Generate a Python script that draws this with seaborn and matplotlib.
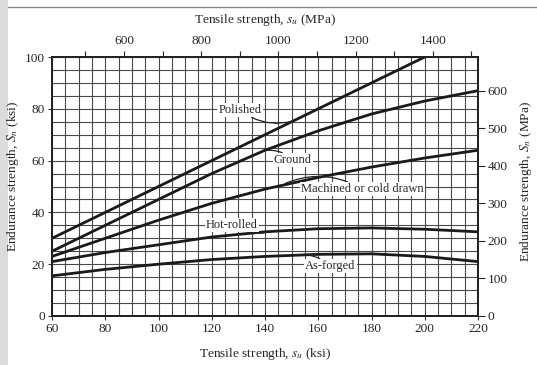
import numpy as np
import pandas as pd
import matplotlib
matplotlib.use("Agg")
import matplotlib.pyplot as plt
import seaborn as sns

# ========== Data (ksi) ==========
su_ksi = [60, 80, 100, 120, 140, 160, 180, 200, 220]
polished = [30, 40, 50, 60, 70, 80, 90, 100, None]
ground = [25, 35, 45, 55, 64, 71.5, 78, 83, 87]
machined = [23, 30, 37, 43.5, 49, 53.5, 57.5, 61, 64]
hot_rolled = [21, 24.5, 27.5, 30.5, 32.5, 33.7, 34, 33.5, 32.5]
as_forged = [15.5, 18, 20, 21.8, 23, 23.8, 24, 23, 21]

finish_names = ["Polished", "Ground", "Machined or cold drawn", "Hot-rolled", "As-forged"]
finish_values = [polished, ground, machined, hot_rolled, as_forged]

# label text position and leader tip (ksi coordinates)
label_xy = [(130.7, 79.5), (150.5, 60.2), (176.5, 49.0), (127.5, 35.1), (164.5, 19.3)]
tip_xy = [(150.6, 75.3), (139.5, 63.8), (147.6, 51.2), (142.7, 32.9), (150.6, 23.4)]

KSI_TO_MPA = 6.895
top_ticks = list(range(500, 1600, 100))
right_ticks = [0, 100, 200, 300, 400, 500, 600]

rows = []
for name, vals in zip(finish_names, finish_values):
    for x, v in zip(su_ksi, vals):
        if v is not None:
            rows.append({"su": x, "se": v, "finish": name})
df = pd.DataFrame(rows)

# ========== Style ==========
sns.set_style("white")
plt.rcParams["font.family"] = ["Liberation Serif", "DejaVu Serif"]
plt.rcParams["mathtext.fontset"] = "stix"
FS = 9.6

fig = plt.figure(figsize=(5.37, 3.65), dpi=100)
ax = fig.add_axes([52 / 537, 1 - 316 / 365, (478 - 52) / 537, (316 - 57) / 365])

# scanned-page decorations
fig.patches.append(plt.Rectangle((0, 0), 8 / 537, 1, transform=fig.transFigure,
                                 facecolor="#dcdcdc", edgecolor="none", zorder=-5))
fig.lines.append(plt.Line2D([8 / 537, 1], [1 - 7 / 365, 1 - 7 / 365], transform=fig.transFigure,
                            color="#888888", lw=1.0, zorder=-5))

# grid every 5 ksi
for gx in np.arange(60, 221, 5):
    ax.axvline(gx, color="#4a4a4a", lw=0.8, zorder=1)
for gy in np.arange(0, 101, 5):
    ax.axhline(gy, color="#4a4a4a", lw=0.8, zorder=1)

sns.lineplot(data=df, x="su", y="se", hue="finish", palette=["#1a1a1a"] * 5,
             estimator=None, sort=False, lw=2.0, legend=False, ax=ax, zorder=3)

ax.set_xlim(60, 220)
ax.set_ylim(0, 100)
ax.set_xticks(range(60, 221, 20))
ax.set_yticks(range(0, 101, 20))
ax.tick_params(axis="both", labelsize=FS, length=3, width=0.8, color="#333333", pad=2,
               direction="out", bottom=True, left=True)
ax.set_xlabel(r"Tensile strength, $s_u$ (ksi)", fontsize=FS, labelpad=8)
ax.set_ylabel(r"Endurance strength, $S_n$ (ksi)", fontsize=FS, labelpad=3)
ax.yaxis.set_label_coords(-0.072, 0.54)
for sp in ax.spines.values():
    sp.set_color("#222222")
    sp.set_linewidth(1.2)

# annotations
for name, (tx, ty), (px, py) in zip(finish_names, label_xy, tip_xy):
    ax.annotate(name, xy=(px, py), xytext=(tx, ty), fontsize=FS - 0.6, ha="center", va="center",
                bbox=dict(boxstyle="square,pad=0.1", fc="white", ec="none"),
                arrowprops=dict(arrowstyle="-", color="#222222", lw=0.9,
                                connectionstyle="arc3,rad=0.25", shrinkA=0, shrinkB=0),
                zorder=4)

# top axis in MPa
ax_top = ax.twiny()
ax_top.set_xlim(60 * KSI_TO_MPA, 220 * KSI_TO_MPA)
ax_top.set_xticks(top_ticks)
ax_top.set_xticklabels(["" if t % 200 else str(t) for t in top_ticks])
ax_top.tick_params(axis="x", labelsize=FS, length=4, width=0.8, pad=3, direction="out", top=True)
ax_top.set_xlabel(r"Tensile strength, $s_u$ (MPa)", fontsize=FS, labelpad=9)

# right axis in MPa
ax_r = ax.twinx()
ax_r.set_ylim(0, 100 * KSI_TO_MPA)
ax_r.set_yticks(right_ticks)
ax_r.tick_params(axis="y", labelsize=FS, length=5, width=0.8, pad=2, direction="out", right=True)
ax_r.set_ylabel(r"Endurance strength, $S_n$ (MPa)", fontsize=FS, labelpad=8)
ax_r.yaxis.set_label_coords(1.093, 0.52)
for a in (ax_top, ax_r):
    for sp in a.spines.values():
        sp.set_color("#222222")
        sp.set_linewidth(1.2)

fig.savefig("out.png", dpi=100)
plt.close(fig)
